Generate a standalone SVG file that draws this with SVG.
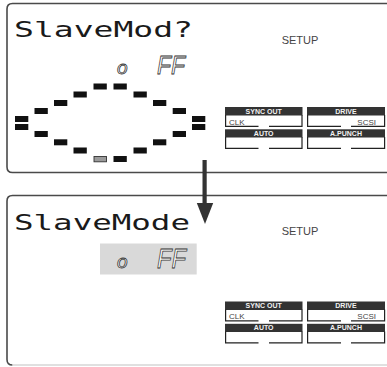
<svg xmlns="http://www.w3.org/2000/svg" width="387" height="367" viewBox="0 0 387 367">
<defs>
<style>
.frame{fill:none;stroke:#4a4a4a;stroke-width:1.6}
.lcd{font-family:"DejaVu Sans Mono","Liberation Mono",monospace;font-size:22px;fill:#1a1a1a}
.seg{font-family:"Liberation Sans",Arial,sans-serif;font-style:italic;fill:#fff;stroke:#333;stroke-width:0.8}
.setup{font-family:"Liberation Sans",Arial,sans-serif;font-size:11px;fill:#444;text-anchor:middle}
.hdr{fill:#333}
.hdt{font-family:"Liberation Sans",Arial,sans-serif;font-size:7px;font-weight:bold;fill:#f2f2f2;text-anchor:middle}
.box{fill:none;stroke:#222;stroke-width:1.2}
.lbl{font-family:"Liberation Sans",Arial,sans-serif;font-size:8px;fill:#444}
.d{fill:#111}
</style>
<g id="ind">
<rect class="hdr" x="225" y="107" width="77.5" height="8.5"/>
<rect class="hdr" x="307" y="107" width="78" height="8.5"/>
<path class="box" d="M225.6 115 V126.4 H258.5 M269 126.4 H302 V115 M307.6 115 V126.4 H341 M351 126.4 H384.6 V115"/>
<text class="hdt" x="263.7" y="113.7">SYNC OUT</text>
<text class="hdt" x="346" y="113.7">DRIVE</text>
<text class="lbl" x="229" y="124.5">CLK</text>
<text class="lbl" x="376" y="124.5" text-anchor="end">SCSI</text>
<rect class="hdr" x="225" y="129.3" width="77.5" height="8.2"/>
<rect class="hdr" x="307" y="129.3" width="78" height="8.2"/>
<path class="box" d="M225.6 137 V148.4 H258.5 M269 148.4 H302 V137 M307.6 137 V148.4 H341 M351 148.4 H384.6 V137"/>
<text class="hdt" x="263.7" y="135.8">AUTO</text>
<text class="hdt" x="346" y="135.8">A.PUNCH</text>
</g>
</defs>

<g id="panel-top">
<path class="frame" d="M390 3.5 H12.5 Q7 3.5 7 9 V167 Q7 172.5 12.5 172.5 H390"/>
<text class="lcd" x="14" y="37" textLength="179" lengthAdjust="spacingAndGlyphs">SlaveMod?</text>
<text class="seg" x="117" y="74" font-size="19">o</text>
<text class="seg" x="157" y="73.5" font-size="25" textLength="28" lengthAdjust="spacingAndGlyphs">FF</text>
<text class="setup" x="300" y="44">SETUP</text>
<g id="dashes">
<rect class="d" x="93.5" y="83.5" width="13.3" height="6"/>
<rect class="d" x="113.5" y="83.5" width="13.3" height="6"/>
<rect class="d" x="73.5" y="91.5" width="13.3" height="6"/>
<rect class="d" x="133.5" y="91.5" width="13.3" height="6"/>
<rect class="d" x="54" y="100" width="13.3" height="6"/>
<rect class="d" x="153" y="100" width="13.3" height="6"/>
<rect class="d" x="34.5" y="108" width="13.3" height="6"/>
<rect class="d" x="172.7" y="108" width="13.3" height="6"/>
<rect class="d" x="15" y="116" width="13.3" height="6"/>
<rect class="d" x="15" y="124" width="13.3" height="6"/>
<rect class="d" x="192" y="116" width="13.3" height="6"/>
<rect class="d" x="192" y="124" width="13.3" height="6"/>
<rect class="d" x="34.5" y="131" width="13.3" height="6"/>
<rect class="d" x="172.7" y="131" width="13.3" height="6"/>
<rect class="d" x="54" y="139.3" width="13.3" height="6"/>
<rect class="d" x="153" y="139.3" width="13.3" height="6"/>
<rect class="d" x="73.5" y="147.5" width="13.3" height="6"/>
<rect class="d" x="133.5" y="147.5" width="13.3" height="6"/>
<rect x="94" y="156.5" width="12.5" height="5.3" fill="#9a9a9a" stroke="#333" stroke-width="0.9"/>
<rect class="d" x="113.5" y="156" width="13.3" height="6"/>
</g>
<use href="#ind"/>
</g>

<g id="panel-bottom">
<path class="frame" d="M390 195.5 H12.5 Q7 195.5 7 201 V359.5 Q7 365 12.5 365"/>
<path d="M12.5 365 H390" fill="none" stroke="#d6d6d6" stroke-width="1.4"/>
<rect x="100" y="243.5" width="96.7" height="31" fill="#d9d9d9"/>
<text class="lcd" x="14" y="230" textLength="176" lengthAdjust="spacingAndGlyphs">SlaveMode</text>
<text class="seg" x="117" y="268" font-size="19">o</text>
<text class="seg" x="157" y="267.5" font-size="27" textLength="29" lengthAdjust="spacingAndGlyphs">FF</text>
<text class="setup" x="300" y="235">SETUP</text>
<use href="#ind" transform="translate(0 194.5)"/>
</g>

<g id="connectors">
<rect x="202.5" y="160" width="4.2" height="45" fill="#333"/>
<polygon points="196.8,203 213.2,203 205,224" fill="#333"/>
</g>
</svg>
